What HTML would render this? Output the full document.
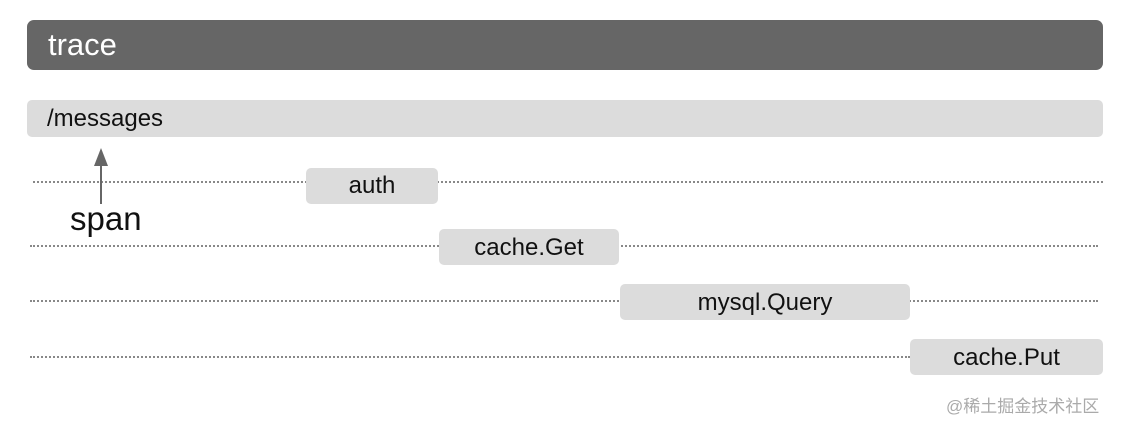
<!DOCTYPE html>
<html><head><meta charset="utf-8"><style>
html,body{margin:0;padding:0;background:#fff;}
body{width:1124px;height:429px;position:relative;overflow:hidden;font-family:"Liberation Sans",Arial,sans-serif;}
.a{position:absolute;box-sizing:border-box;}
.hdr{left:27px;top:20px;width:1076px;height:50px;background:#666;border-radius:7px;color:#fff;font-size:31px;padding-left:21px;line-height:50px;}
.bar{left:27px;top:100px;width:1076px;height:37px;background:#dcdcdc;border-radius:5px;font-size:24px;line-height:37px;padding-left:20px;color:#111;}
.sp{background:#dcdcdc;border-radius:5px;font-size:24px;text-align:center;color:#111;}
.dot{height:0;border-top:2px dotted #888;}
</style></head><body>
<div class="a hdr">trace</div>
<div class="a bar">/messages</div>

<div class="a dot" style="left:33px;top:181px;width:1070px;"></div>
<div class="a dot" style="left:30px;top:245px;width:1068px;"></div>
<div class="a dot" style="left:30px;top:300px;width:1068px;"></div>
<div class="a dot" style="left:30px;top:356px;width:880px;"></div>

<div class="a sp" style="left:306px;top:168px;width:132px;height:36px;line-height:36px;">auth</div>
<div class="a sp" style="left:439px;top:229px;width:180px;height:36px;line-height:37px;">cache.Get</div>
<div class="a sp" style="left:620px;top:284px;width:290px;height:36px;line-height:37px;">mysql.Query</div>
<div class="a sp" style="left:910px;top:339px;width:193px;height:36px;line-height:37px;">cache.Put</div>

<svg class="a" style="left:0;top:0" width="1124" height="429">
<line x1="101" y1="162" x2="101" y2="204" stroke="#666" stroke-width="2"/>
<polygon points="101,148 94,166 108,166" fill="#666"/>
</svg>
<div class="a" style="left:70px;top:200px;font-size:33px;color:#111;">span</div>
<div class="a" style="left:946px;top:392px;font-size:17px;color:#aaa;font-family:'Liberation Sans','Noto Sans CJK SC',sans-serif;">@稀土掘金技术社区</div>
</body></html>
